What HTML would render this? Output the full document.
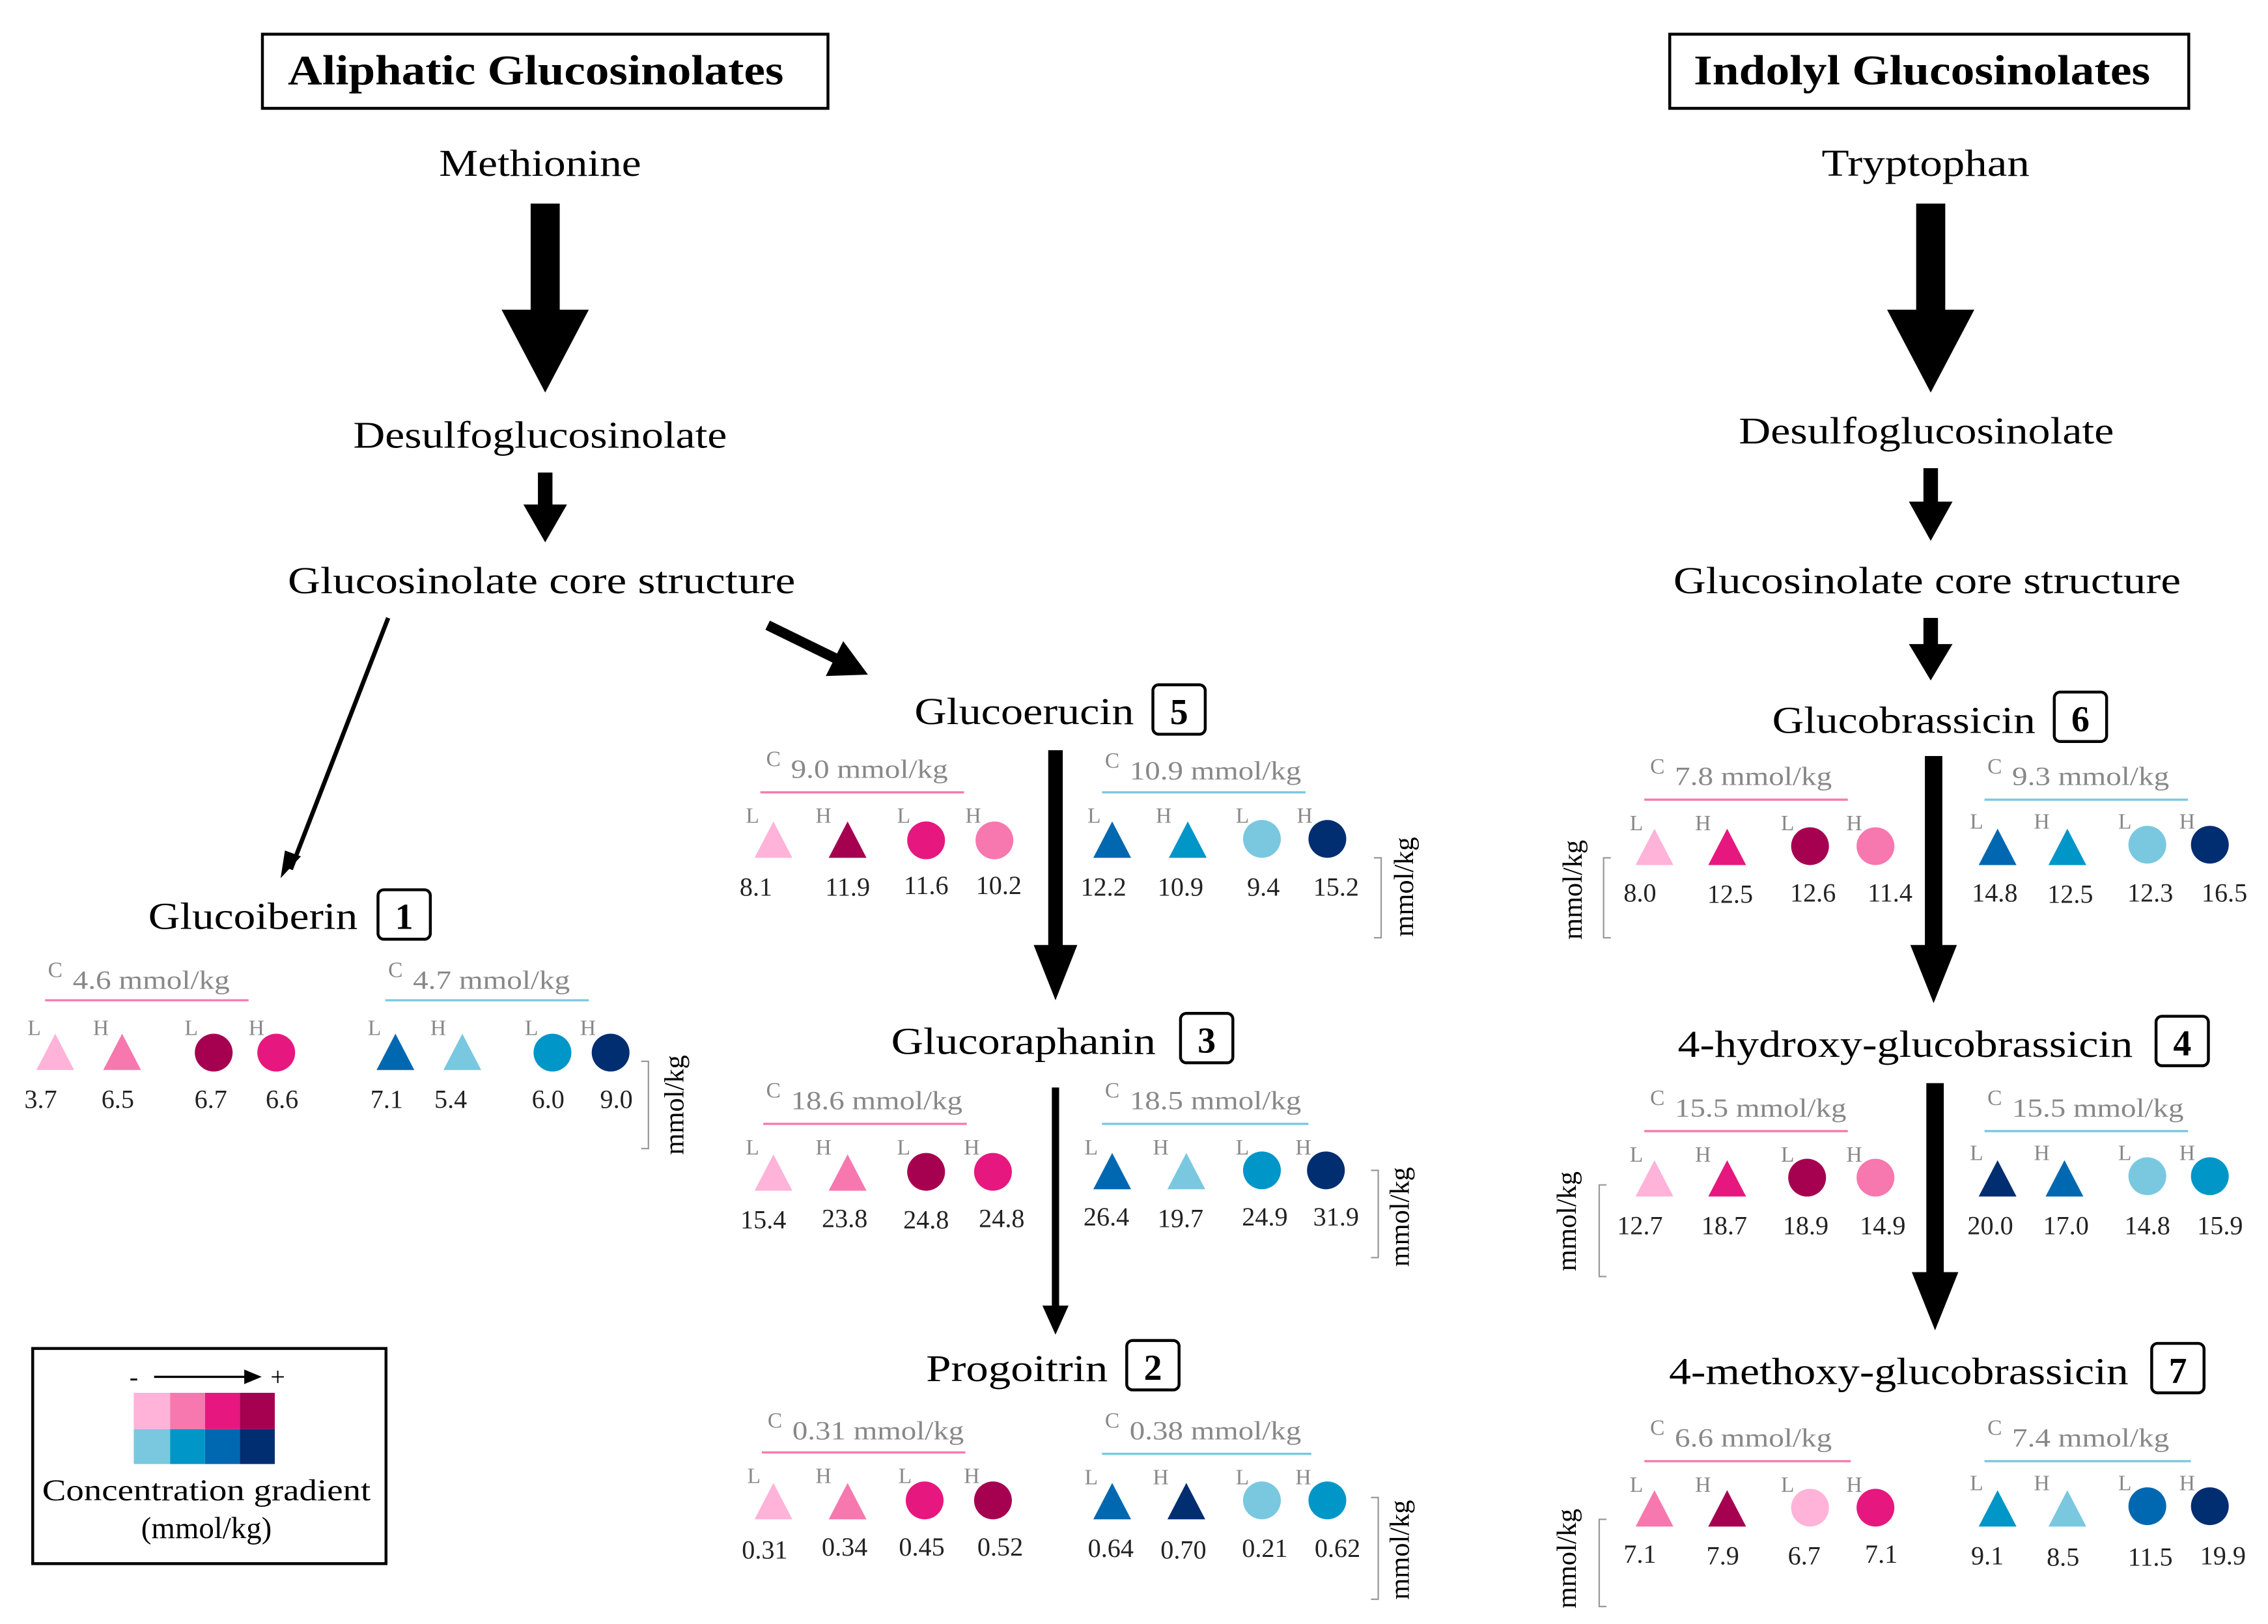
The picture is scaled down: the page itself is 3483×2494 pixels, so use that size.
<!DOCTYPE html>
<html><head><meta charset="utf-8"><style>
html,body{margin:0;padding:0;background:#fff}
svg{display:block}
text{font-family:"Liberation Serif",serif}
.t{font-size:26px;fill:#000}
.g{fill:#888}
.n{font-size:18px;text-anchor:middle;fill:#222}
.lh{font-size:15px;fill:#888}
</style></head><body>
<svg width="3483" height="2494" viewBox="0 0 1560 1117" xmlns="http://www.w3.org/2000/svg">
<!-- headers -->
<rect x="180.5" y="23.5" width="389" height="51" fill="none" stroke="#000" stroke-width="2"/>
<text x="198" y="58" font-size="29" font-weight="bold" textLength="341" lengthAdjust="spacingAndGlyphs">Aliphatic Glucosinolates</text>
<rect x="1148.5" y="23.5" width="357" height="51" fill="none" stroke="#000" stroke-width="2"/>
<text x="1165" y="58" font-size="29" font-weight="bold" textLength="314" lengthAdjust="spacingAndGlyphs">Indolyl Glucosinolates</text>

<text class="t" x="302" y="121" textLength="139" lengthAdjust="spacingAndGlyphs">Methionine</text>
<text class="t" x="1253" y="121" textLength="143" lengthAdjust="spacingAndGlyphs">Tryptophan</text>
<text class="t" x="243" y="308" textLength="257" lengthAdjust="spacingAndGlyphs">Desulfoglucosinolate</text>
<text class="t" x="1196" y="305" textLength="258" lengthAdjust="spacingAndGlyphs">Desulfoglucosinolate</text>
<text class="t" x="198" y="408" textLength="349" lengthAdjust="spacingAndGlyphs">Glucosinolate core structure</text>
<text class="t" x="1151" y="408" textLength="349" lengthAdjust="spacingAndGlyphs">Glucosinolate core structure</text>

<!-- big arrows -->
<rect x="365" y="140" width="20" height="75" fill="#000"/><polygon points="345,213 405,213 375,270" fill="#000"/>
<rect x="1318" y="140" width="20" height="75" fill="#000"/><polygon points="1298,213 1358,213 1328,270" fill="#000"/>
<rect x="370" y="325" width="10" height="25" fill="#000"/><polygon points="360,347 390,347 375,373" fill="#000"/>
<rect x="1323" y="322" width="10" height="25" fill="#000"/><polygon points="1313,345 1343,345 1328,372" fill="#000"/>
<rect x="1323" y="425" width="10" height="20" fill="#000"/><polygon points="1313,443 1343,443 1328,468" fill="#000"/>
<line x1="267" y1="425" x2="200" y2="598" stroke="#000" stroke-width="3"/><polygon points="193,604 196,585 207,589" fill="#000"/>
<line x1="528" y1="430" x2="575" y2="453" stroke="#000" stroke-width="7"/><polygon points="597,464 568,465 580,441" fill="#000"/>
<rect x="721" y="516" width="10" height="135" fill="#000"/><polygon points="711,650 741,650 726,688" fill="#000"/>
<rect x="723.5" y="748" width="5" height="152" fill="#000"/><polygon points="717,898 735,898 726,918" fill="#000"/>
<rect x="1324" y="520" width="12" height="132" fill="#000"/><polygon points="1314,650 1346,650 1330,690" fill="#000"/>
<rect x="1325" y="745" width="12" height="132" fill="#000"/><polygon points="1315,875 1347,875 1331,915" fill="#000"/>

<!-- titles with numbers -->
<text class="t" x="102" y="639" textLength="144" lengthAdjust="spacingAndGlyphs">Glucoiberin</text>
<rect x="260" y="612" width="36" height="34" rx="4" fill="none" stroke="#000" stroke-width="2"/><text x="278" y="639" font-size="25" font-weight="bold" text-anchor="middle">1</text>
<text class="t" x="629" y="498" textLength="151" lengthAdjust="spacingAndGlyphs">Glucoerucin</text>
<rect x="793" y="471" width="36" height="34" rx="4" fill="none" stroke="#000" stroke-width="2"/><text x="811" y="498" font-size="25" font-weight="bold" text-anchor="middle">5</text>
<text class="t" x="613" y="725" textLength="182" lengthAdjust="spacingAndGlyphs">Glucoraphanin</text>
<rect x="812" y="697" width="36" height="34" rx="4" fill="none" stroke="#000" stroke-width="2"/><text x="830" y="724" font-size="25" font-weight="bold" text-anchor="middle">3</text>
<text class="t" x="637" y="950" textLength="125" lengthAdjust="spacingAndGlyphs">Progoitrin</text>
<rect x="775" y="922" width="36" height="34" rx="4" fill="none" stroke="#000" stroke-width="2"/><text x="793" y="949" font-size="25" font-weight="bold" text-anchor="middle">2</text>
<text class="t" x="1219" y="504" textLength="181" lengthAdjust="spacingAndGlyphs">Glucobrassicin</text>
<rect x="1413" y="476" width="36" height="34" rx="4" fill="none" stroke="#000" stroke-width="2"/><text x="1431" y="503" font-size="25" font-weight="bold" text-anchor="middle">6</text>
<text class="t" x="1154" y="727" textLength="313" lengthAdjust="spacingAndGlyphs">4-hydroxy-glucobrassicin</text>
<rect x="1483" y="699" width="36" height="34" rx="4" fill="none" stroke="#000" stroke-width="2"/><text x="1501" y="726" font-size="25" font-weight="bold" text-anchor="middle">4</text>
<text class="t" x="1148" y="952" textLength="316" lengthAdjust="spacingAndGlyphs">4-methoxy-glucobrassicin</text>
<rect x="1480" y="924" width="36" height="34" rx="4" fill="none" stroke="#000" stroke-width="2"/><text x="1498" y="951" font-size="25" font-weight="bold" text-anchor="middle">7</text>

<!-- Glucoiberin -->
<g transform="translate(33,672)">
<text class="g" font-size="15" x="0" y="0">C</text><text class="g" font-size="18" x="17" y="8" textLength="108" lengthAdjust="spacingAndGlyphs">4.6 mmol/kg</text>
<line x1="-2" y1="16" x2="138" y2="16" stroke="#F778AE" stroke-width="1.5"/>
<text class="lh" x="-14" y="40">L</text><text class="lh" x="31" y="40">H</text><text class="lh" x="94" y="40">L</text><text class="lh" x="138" y="40">H</text>
<polygon points="-8,64 5,39 18,64" fill="#FFB3D9"/><polygon points="38,64 51,39 64,64" fill="#F778AE"/>
<circle cx="114" cy="52" r="13" fill="#A60050"/><circle cx="157" cy="52" r="13" fill="#E6187F"/>
<text class="n" x="-5" y="90">3.7</text><text class="n" x="48" y="90">6.5</text><text class="n" x="112" y="90">6.7</text><text class="n" x="161" y="90">6.6</text>
</g>
<g transform="translate(267,672)">
<text class="g" font-size="15" x="0" y="0">C</text><text class="g" font-size="18" x="17" y="8" textLength="108" lengthAdjust="spacingAndGlyphs">4.7 mmol/kg</text>
<line x1="-2" y1="16" x2="138" y2="16" stroke="#79C8E0" stroke-width="1.5"/>
<text class="lh" x="-14" y="40">L</text><text class="lh" x="29" y="40">H</text><text class="lh" x="94" y="40">L</text><text class="lh" x="132" y="40">H</text>
<polygon points="-8,64 5,39 18,64" fill="#0068B0"/><polygon points="38,64 51,39 64,64" fill="#79C8E0"/>
<circle cx="113" cy="52" r="13" fill="#0096C8"/><circle cx="153" cy="52" r="13" fill="#002E70"/>
<text class="n" x="-1" y="90">7.1</text><text class="n" x="43" y="90">5.4</text><text class="n" x="110" y="90">6.0</text><text class="n" x="157" y="90">9.0</text>
</g>
<path d="M441,730 H446 V790 H441" fill="none" stroke="#999" stroke-width="1"/>
<text x="470" y="760" font-size="19" text-anchor="middle" transform="rotate(-90 470 760)">mmol/kg</text>

<!-- Glucoerucin -->
<g transform="translate(527,527)">
<text class="g" font-size="15" x="0" y="0">C</text><text class="g" font-size="18" x="17" y="8" textLength="108" lengthAdjust="spacingAndGlyphs">9.0 mmol/kg</text>
<line x1="-4" y1="18" x2="136" y2="18" stroke="#F778AE" stroke-width="1.5"/>
<text class="lh" x="-14" y="39">L</text><text class="lh" x="34" y="39">H</text><text class="lh" x="90" y="39">L</text><text class="lh" x="137" y="39">H</text>
<polygon points="-8,63 5,38 18,63" fill="#FFB3D9"/><polygon points="43,63 56,38 69,63" fill="#A60050"/>
<circle cx="110" cy="51" r="13" fill="#E6187F"/><circle cx="157" cy="51" r="13" fill="#F778AE"/>
<text class="n" x="-7" y="89">8.1</text><text class="n" x="56" y="89">11.9</text><text class="n" x="110" y="88">11.6</text><text class="n" x="160" y="88">10.2</text>
</g>
<g transform="translate(760,528)">
<text class="g" font-size="15" x="0" y="0">C</text><text class="g" font-size="18" x="17" y="8" textLength="118" lengthAdjust="spacingAndGlyphs">10.9 mmol/kg</text>
<line x1="-2" y1="17" x2="138" y2="17" stroke="#79C8E0" stroke-width="1.5"/>
<text class="lh" x="-12" y="38">L</text><text class="lh" x="35" y="38">H</text><text class="lh" x="90" y="38">L</text><text class="lh" x="132" y="38">H</text>
<polygon points="-8,62 5,37 18,62" fill="#0068B0"/><polygon points="44,62 57,37 70,62" fill="#0096C8"/>
<circle cx="108" cy="49" r="13" fill="#79C8E0"/><circle cx="153" cy="49" r="13" fill="#002E70"/>
<text class="n" x="-1" y="88">12.2</text><text class="n" x="52" y="88">10.9</text><text class="n" x="109" y="88">9.4</text><text class="n" x="159" y="88">15.2</text>
</g>
<path d="M945,590 H950 V645 H945" fill="none" stroke="#999" stroke-width="1"/>
<text x="972" y="610" font-size="19" text-anchor="middle" transform="rotate(-90 972 610)">mmol/kg</text>

<!-- Glucoraphanin -->
<g transform="translate(527,755)">
<text class="g" font-size="15" x="0" y="0">C</text><text class="g" font-size="18" x="17" y="8" textLength="118" lengthAdjust="spacingAndGlyphs">18.6 mmol/kg</text>
<line x1="-2" y1="18" x2="138" y2="18" stroke="#F778AE" stroke-width="1.5"/>
<text class="lh" x="-14" y="39">L</text><text class="lh" x="34" y="39">H</text><text class="lh" x="90" y="39">L</text><text class="lh" x="136" y="39">H</text>
<polygon points="-8,64 5,39 18,64" fill="#FFB3D9"/><polygon points="43,64 56,39 69,64" fill="#F778AE"/>
<circle cx="110" cy="51" r="13" fill="#A60050"/><circle cx="156" cy="51" r="13" fill="#E6187F"/>
<text class="n" x="-2" y="90">15.4</text><text class="n" x="54" y="89">23.8</text><text class="n" x="110" y="90">24.8</text><text class="n" x="162" y="89">24.8</text>
</g>
<g transform="translate(760,755)">
<text class="g" font-size="15" x="0" y="0">C</text><text class="g" font-size="18" x="17" y="8" textLength="118" lengthAdjust="spacingAndGlyphs">18.5 mmol/kg</text>
<line x1="-2" y1="18" x2="140" y2="18" stroke="#79C8E0" stroke-width="1.5"/>
<text class="lh" x="-14" y="39">L</text><text class="lh" x="33" y="39">H</text><text class="lh" x="90" y="39">L</text><text class="lh" x="131" y="39">H</text>
<polygon points="-8,63 5,38 18,63" fill="#0068B0"/><polygon points="43,63 56,38 69,63" fill="#79C8E0"/>
<circle cx="108" cy="50" r="13" fill="#0096C8"/><circle cx="152" cy="50" r="13" fill="#002E70"/>
<text class="n" x="1" y="88">26.4</text><text class="n" x="52" y="89">19.7</text><text class="n" x="110" y="88">24.9</text><text class="n" x="159" y="88">31.9</text>
</g>
<path d="M943,805 H948 V865 H943" fill="none" stroke="#999" stroke-width="1"/>
<text x="969" y="837" font-size="19" text-anchor="middle" transform="rotate(-90 969 837)">mmol/kg</text>

<!-- Progoitrin -->
<g transform="translate(528,982)">
<text class="g" font-size="15" x="0" y="0">C</text><text class="g" font-size="18" x="17" y="8" textLength="118" lengthAdjust="spacingAndGlyphs">0.31 mmol/kg</text>
<line x1="-4" y1="17" x2="136" y2="17" stroke="#F778AE" stroke-width="1.5"/>
<text class="lh" x="-14" y="38">L</text><text class="lh" x="33" y="38">H</text><text class="lh" x="90" y="38">L</text><text class="lh" x="135" y="38">H</text>
<polygon points="-9,63 4,38 17,63" fill="#FFB3D9"/><polygon points="42,63 55,38 68,63" fill="#F778AE"/>
<circle cx="108" cy="50" r="13" fill="#E6187F"/><circle cx="155" cy="50" r="13" fill="#A60050"/>
<text class="n" x="-2" y="90">0.31</text><text class="n" x="53" y="88">0.34</text><text class="n" x="106" y="88">0.45</text><text class="n" x="160" y="88">0.52</text>
</g>
<g transform="translate(760,982)">
<text class="g" font-size="15" x="0" y="0">C</text><text class="g" font-size="18" x="17" y="8" textLength="118" lengthAdjust="spacingAndGlyphs">0.38 mmol/kg</text>
<line x1="-2" y1="18" x2="142" y2="18" stroke="#79C8E0" stroke-width="1.5"/>
<text class="lh" x="-14" y="39">L</text><text class="lh" x="33" y="39">H</text><text class="lh" x="90" y="39">L</text><text class="lh" x="131" y="39">H</text>
<polygon points="-8,63 5,38 18,63" fill="#0068B0"/><polygon points="43,63 56,38 69,63" fill="#002E70"/>
<circle cx="108" cy="50" r="13" fill="#79C8E0"/><circle cx="153" cy="50" r="13" fill="#0096C8"/>
<text class="n" x="4" y="89">0.64</text><text class="n" x="54" y="90">0.70</text><text class="n" x="110" y="89">0.21</text><text class="n" x="160" y="89">0.62</text>
</g>
<path d="M943,1030 H948 V1100 H943" fill="none" stroke="#999" stroke-width="1"/>
<text x="969" y="1066" font-size="19" text-anchor="middle" transform="rotate(-90 969 1066)">mmol/kg</text>

<!-- Glucobrassicin -->
<g transform="translate(1135,532)">
<text class="g" font-size="15" x="0" y="0">C</text><text class="g" font-size="18" x="17" y="8" textLength="108" lengthAdjust="spacingAndGlyphs">7.8 mmol/kg</text>
<line x1="-4" y1="18" x2="136" y2="18" stroke="#F778AE" stroke-width="1.5"/>
<text class="lh" x="-14" y="39">L</text><text class="lh" x="31" y="39">H</text><text class="lh" x="90" y="39">L</text><text class="lh" x="135" y="39">H</text>
<polygon points="-10,63 3,38 16,63" fill="#FFB3D9"/><polygon points="40,63 53,38 66,63" fill="#E6187F"/>
<circle cx="110" cy="50" r="13" fill="#A60050"/><circle cx="155" cy="50" r="13" fill="#F778AE"/>
<text class="n" x="-7" y="88">8.0</text><text class="n" x="55" y="89">12.5</text><text class="n" x="112" y="88">12.6</text><text class="n" x="165" y="88">11.4</text>
</g>
<g transform="translate(1367,532)">
<text class="g" font-size="15" x="0" y="0">C</text><text class="g" font-size="18" x="17" y="8" textLength="108" lengthAdjust="spacingAndGlyphs">9.3 mmol/kg</text>
<line x1="-2" y1="18" x2="138" y2="18" stroke="#79C8E0" stroke-width="1.5"/>
<text class="lh" x="-12" y="38">L</text><text class="lh" x="32" y="38">H</text><text class="lh" x="90" y="38">L</text><text class="lh" x="132" y="38">H</text>
<polygon points="-6,63 7,38 20,63" fill="#0068B0"/><polygon points="42,63 55,38 68,63" fill="#0096C8"/>
<circle cx="110" cy="49" r="13" fill="#79C8E0"/><circle cx="153" cy="49" r="13" fill="#002E70"/>
<text class="n" x="5" y="88">14.8</text><text class="n" x="57" y="89">12.5</text><text class="n" x="112" y="88">12.3</text><text class="n" x="163" y="88">16.5</text>
</g>
<path d="M1108,590 H1103 V645 H1108" fill="none" stroke="#999" stroke-width="1"/>
<text x="1088" y="612" font-size="19" text-anchor="middle" transform="rotate(-90 1088 612)">mmol/kg</text>

<!-- 4-hydroxy -->
<g transform="translate(1135,760)">
<text class="g" font-size="15" x="0" y="0">C</text><text class="g" font-size="18" x="17" y="8" textLength="118" lengthAdjust="spacingAndGlyphs">15.5 mmol/kg</text>
<line x1="-4" y1="18" x2="136" y2="18" stroke="#F778AE" stroke-width="1.5"/>
<text class="lh" x="-14" y="39">L</text><text class="lh" x="31" y="39">H</text><text class="lh" x="90" y="39">L</text><text class="lh" x="135" y="39">H</text>
<polygon points="-10,63 3,38 16,63" fill="#FFB3D9"/><polygon points="40,63 53,38 66,63" fill="#E6187F"/>
<circle cx="108" cy="50" r="13" fill="#A60050"/><circle cx="155" cy="50" r="13" fill="#F778AE"/>
<text class="n" x="-7" y="89">12.7</text><text class="n" x="51" y="89">18.7</text><text class="n" x="107" y="89">18.9</text><text class="n" x="160" y="89">14.9</text>
</g>
<g transform="translate(1367,760)">
<text class="g" font-size="15" x="0" y="0">C</text><text class="g" font-size="18" x="17" y="8" textLength="118" lengthAdjust="spacingAndGlyphs">15.5 mmol/kg</text>
<line x1="-2" y1="18" x2="138" y2="18" stroke="#79C8E0" stroke-width="1.5"/>
<text class="lh" x="-12" y="38">L</text><text class="lh" x="32" y="38">H</text><text class="lh" x="90" y="38">L</text><text class="lh" x="132" y="38">H</text>
<polygon points="-6,63 7,38 20,63" fill="#002E70"/><polygon points="40,63 53,38 66,63" fill="#0068B0"/>
<circle cx="110" cy="49" r="13" fill="#79C8E0"/><circle cx="153" cy="49" r="13" fill="#0096C8"/>
<text class="n" x="2" y="89">20.0</text><text class="n" x="54" y="89">17.0</text><text class="n" x="110" y="89">14.8</text><text class="n" x="160" y="89">15.9</text>
</g>
<path d="M1105,815 H1100 V878 H1105" fill="none" stroke="#999" stroke-width="1"/>
<text x="1084" y="840" font-size="19" text-anchor="middle" transform="rotate(-90 1084 840)">mmol/kg</text>

<!-- 4-methoxy -->
<g transform="translate(1135,987)">
<text class="g" font-size="15" x="0" y="0">C</text><text class="g" font-size="18" x="17" y="8" textLength="108" lengthAdjust="spacingAndGlyphs">6.6 mmol/kg</text>
<line x1="-4" y1="18" x2="138" y2="18" stroke="#F778AE" stroke-width="1.5"/>
<text class="lh" x="-14" y="39">L</text><text class="lh" x="31" y="39">H</text><text class="lh" x="90" y="39">L</text><text class="lh" x="135" y="39">H</text>
<polygon points="-10,63 3,38 16,63" fill="#F778AE"/><polygon points="40,63 53,38 66,63" fill="#A60050"/>
<circle cx="110" cy="50" r="13" fill="#FFB3D9"/><circle cx="155" cy="50" r="13" fill="#E6187F"/>
<text class="n" x="-7" y="88">7.1</text><text class="n" x="50" y="89">7.9</text><text class="n" x="106" y="89">6.7</text><text class="n" x="159" y="88">7.1</text>
</g>
<g transform="translate(1367,987)">
<text class="g" font-size="15" x="0" y="0">C</text><text class="g" font-size="18" x="17" y="8" textLength="108" lengthAdjust="spacingAndGlyphs">7.4 mmol/kg</text>
<line x1="-2" y1="18" x2="140" y2="18" stroke="#79C8E0" stroke-width="1.5"/>
<text class="lh" x="-12" y="38">L</text><text class="lh" x="32" y="38">H</text><text class="lh" x="90" y="38">L</text><text class="lh" x="132" y="38">H</text>
<polygon points="-6,63 7,38 20,63" fill="#0096C8"/><polygon points="42,63 55,38 68,63" fill="#79C8E0"/>
<circle cx="110" cy="49" r="13" fill="#0068B0"/><circle cx="153" cy="49" r="13" fill="#002E70"/>
<text class="n" x="0" y="89">9.1</text><text class="n" x="52" y="90">8.5</text><text class="n" x="112" y="90">11.5</text><text class="n" x="162" y="89">19.9</text>
</g>
<path d="M1105,1045 H1100 V1105 H1105" fill="none" stroke="#999" stroke-width="1"/>
<text x="1084" y="1072" font-size="19" text-anchor="middle" transform="rotate(-90 1084 1072)">mmol/kg</text>

<!-- legend -->
<rect x="22.5" y="927.5" width="243" height="148" fill="none" stroke="#000" stroke-width="2"/>
<text x="89" y="953" font-size="18" font-family="Liberation Sans">-</text>
<line x1="106" y1="947" x2="170" y2="947" stroke="#000" stroke-width="1.5"/><polygon points="168,942 180,947 168,952" fill="#000"/>
<text x="186" y="953" font-size="18" font-family="Liberation Sans">+</text>
<rect x="92" y="958" width="25" height="25" fill="#FFB3D9"/><rect x="117" y="958" width="24" height="25" fill="#F778AE"/><rect x="141" y="958" width="24" height="25" fill="#E6187F"/><rect x="165" y="958" width="24" height="25" fill="#A60050"/>
<rect x="92" y="983" width="25" height="24" fill="#79C8E0"/><rect x="117" y="983" width="24" height="24" fill="#0096C8"/><rect x="141" y="983" width="24" height="24" fill="#0068B0"/><rect x="165" y="983" width="24" height="24" fill="#002E70"/>
<text x="142" y="1032" font-size="21" text-anchor="middle" textLength="226" lengthAdjust="spacingAndGlyphs">Concentration gradient</text>
<text x="142" y="1058" font-size="21" text-anchor="middle">(mmol/kg)</text>
</svg>
</body></html>
